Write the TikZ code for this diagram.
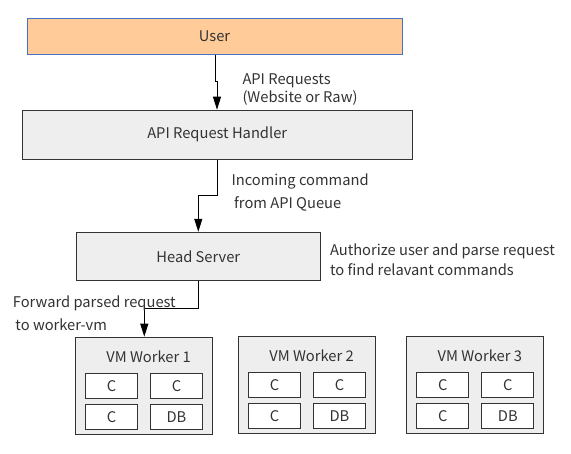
\documentclass[tikz,border=0pt]{standalone}
\usepackage{fontspec}
\setmainfont{Noto Sans CJK SC}
\usetikzlibrary{arrows.meta}
\definecolor{userfill}{HTML}{FFCC99}
\definecolor{userline}{HTML}{4472C4}
\definecolor{boxfill}{HTML}{EEEEEE}
\definecolor{boxline}{HTML}{333333}
\definecolor{txt}{HTML}{333333}
\begin{document}
\begin{tikzpicture}[x=1pt,y=-1pt,
  every node/.style={font=\fontsize{14.7}{17}\selectfont, text=txt},
  userbox/.style={draw=userline, fill=userfill, line width=1pt, inner sep=0pt},
  graybox/.style={draw=boxline, fill=boxfill, line width=1pt, inner sep=0pt},
  cellbox/.style={draw=boxline, fill=white, line width=1pt, inner sep=0pt, minimum width=52pt, minimum height=25pt},
  lbl/.style={anchor=base west, inner sep=0pt},
  conn/.style={line width=1pt, -{Triangle[length=13pt,width=8pt]}}
]
\useasboundingbox (0,0) rectangle (571,454);
\fill[white] (0,0) rectangle (571,454);

\node[userbox, minimum width=375pt, minimum height=36pt] (user) at (214.5,36.2) {User};
\node[graybox, minimum width=390pt, minimum height=49pt] (api) at (217.2,134.7) {API Request Handler};
\node[graybox, minimum width=244pt, minimum height=48pt] (head) at (198.3,256.3) {Head Server};

\foreach \n/\cx/\cy in {1/144/385.7, 2/307/384.7, 3/475.3/384.7}{
  \node[graybox, minimum width=137pt, minimum height=97pt] (w\n) at (\cx,\cy) {};
  \node[anchor=base, inner sep=0pt] (wt\n) at (\cx+4.5,\cy-22.7) {VM Worker \n};
  \node[cellbox] (c\n a) at (\cx-32.5,\cy) {C};
  \node[cellbox] (c\n b) at (\cx+32.5,\cy) {C};
  \node[cellbox] (c\n c) at (\cx-32.5,\cy+31) {C};
  \node[cellbox] (c\n d) at (\cx+32.5,\cy+31) {DB};
}

% connectors
\coordinate (j1a) at (215.7,82);
\coordinate (j1b) at (217,82);
\draw[conn] (user.south -| j1a) -- (j1a) -- (j1b) -- (j1b |- api.north);
\coordinate (j2a) at (217.3,195.3);
\coordinate (j2b) at (198.3,195.3);
\draw[conn] (api.south -| j2a) -- (j2a) -- (j2b) -- (j2b |- head.north);
\coordinate (j3a) at (198.3,309);
\coordinate (j3b) at (144.3,309);
\draw[conn] (head.south -| j3a) -- (j3a) -- (j3b) -- (j3b |- w1.north);

% labels
\node[lbl] (l1a) at (242.3,85) {API Requests};
\node[lbl] (l1b) at (242.3,102.7) {(Website or Raw)};
\node[lbl] (l2a) at (231.3,186) {Incoming command};
\node[lbl] (l2b) at (234,208.5) {from API Queue};
\node[lbl] (l3a) at (329.8,256) {Authorize user and parse request};
\node[lbl] (l3b) at (329.8,276) {to find relavant commands};
\node[lbl] (l4a) at (12.7,308) {Forward parsed request};
\node[lbl] (l4b) at (15.3,331) {to worker-vm};
\end{tikzpicture}
\end{document}
